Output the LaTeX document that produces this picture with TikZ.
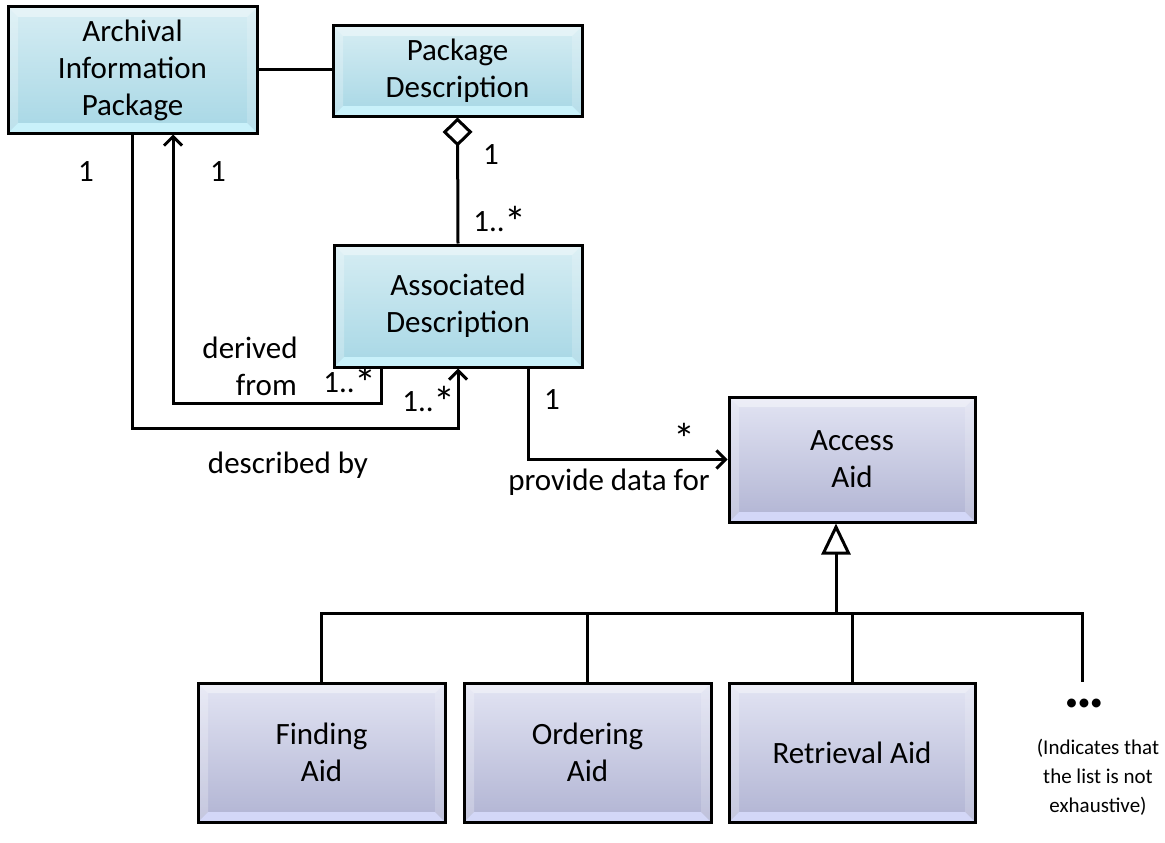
\documentclass[tikz,border=0pt]{standalone}
\usepackage{fontspec}
\setmainfont{Carlito}
\usetikzlibrary{arrows.meta,calc}

\definecolor{cyanTop}{HTML}{D6EDF3}
\definecolor{cyanBot}{HTML}{A7D7E5}
\definecolor{cyanRim}{HTML}{C9F1FA}
\definecolor{lavTop}{HTML}{E2E4F3}
\definecolor{lavBot}{HTML}{B1B4D3}
\definecolor{lavRim}{HTML}{D3D7F7}

% a larger, slightly lowered asterisk for multiplicities
\newcommand\many{\raisebox{-6pt}{\fontsize{44}{44}\selectfont *}}

\tikzset{
  bevel/.style={path picture={
      \coordinate (nw) at (path picture bounding box.north west);
      \coordinate (ne) at (path picture bounding box.north east);
      \coordinate (sw) at (path picture bounding box.south west);
      \coordinate (se) at (path picture bounding box.south east);
      \fill[white,opacity=.40] (nw) -- (ne) -- ([xshift=-10pt,yshift=-10pt]ne)
            -- ([xshift=10pt,yshift=-10pt]nw) -- cycle;
      \fill[white,opacity=.25] (nw) -- ([xshift=10pt,yshift=-10pt]nw)
            -- ([xshift=10pt,yshift=10pt]sw) -- (sw) -- cycle;
      \fill[white,opacity=.18] (ne) -- ([xshift=-10pt,yshift=-10pt]ne)
            -- ([xshift=-10pt,yshift=10pt]se) -- (se) -- cycle;
      \fill[#1] (sw) -- (se) -- ([xshift=-10pt,yshift=10pt]se)
            -- ([xshift=10pt,yshift=10pt]sw) -- cycle;
  }},
  classbox/.style={draw=black, line width=3pt, align=center, inner sep=0pt,
      font=\fontsize{31}{37}\selectfont},
  topclass/.style={classbox, top color=cyanTop, bottom color=cyanBot, bevel=cyanRim},
  aidclass/.style={classbox, top color=lavTop, bottom color=lavBot, bevel=lavRim},
  link/.style={line width=3pt},
  nav/.style={link, -{Straight Barb[length=9pt,width=18pt]}},
  lbl/.style={font=\fontsize{31}{37}\selectfont, inner sep=0pt},
  note/.style={font=\fontsize{21}{29}\selectfont, align=center, inner sep=0pt},
}

\begin{document}
\begin{tikzpicture}[x=1pt,y=-1pt]
\useasboundingbox (0,0) rectangle (1165,843);

% classes
\node[topclass, minimum width=249, minimum height=126] (aip) at (132.5,70)
  {Archival\\Information\\Package};
\node[topclass, minimum width=249, minimum height=90] (pd) at (457.5,71)
  {Package\\Description};
\node[topclass, minimum width=248, minimum height=122] (ad) at (458,306)
  {Associated\\Description};
\node[aidclass, minimum width=246, minimum height=125] (acc) at (852,459.5)
  {Access\\Aid};
\node[aidclass, minimum width=247, minimum height=139] (find) at (321.5,752.5)
  {Finding\\Aid};
\node[aidclass, minimum width=247, minimum height=139] (ord) at (587.5,752.5)
  {Ordering\\Aid};
\node[aidclass, minimum width=246, minimum height=139] (ret) at (852,752.5)
  {Retrieval Aid};

% routing points
\coordinate (descY) at (0,428);
\coordinate (derX) at (381,0);
\coordinate (derY) at (0,403);
\coordinate (aipIn) at (173,0);
\coordinate (adOut) at (528,0);
\coordinate (genX) at (836,0);
\coordinate (barY) at (0,613);
\coordinate (moreEnd) at (1082,682);

% Archival Information Package -- Package Description
\draw[link] (aip.east) -- (aip.east -| pd.west);

% aggregation
\draw[link, {Diamond[open,length=29pt,width=30pt,fill=white]}-] (pd.south) -- (ad.north);

% described by
\draw[nav] (aip.south) |- (descY -| ad.south) -- (ad.south);

% derived from
\draw[nav] (derX |- ad.south) |- (derY -| aipIn) -- (aipIn |- aip.south);

% provide data for
\draw[nav] (adOut |- ad.south) |- (acc.west);

% generalization
\draw[link, -{Triangle[open,length=31pt,width=29pt,fill=white]}]
  (genX |- barY) -- (genX |- acc.south);
\draw[link] (find.north) |- (barY -| moreEnd) -- (moreEnd);
\draw[link] (ord.north) -- (ord.north |- barY);
\draw[link] (ret.north) -- (ret.north |- barY);

% multiplicities and roles
\node[lbl] (m1) at (86,172) {1};
\node[lbl] (m2) at (218,172) {1};
\node[lbl] (m3) at (491,155) {1};
\node[lbl] (m4) at (500,222) {1..\many};
\node[lbl] (r1) at (250,348) {derived};
\node[lbl, anchor=east] (r2) at (297,385) {from};
\node[lbl] (m5) at (350,383) {1..\many};
\node[lbl] (m6) at (429,402) {1..\many};
\node[lbl] (r3) at (288,465) {described by};
\node[lbl] (m7) at (552,400) {1};
\node[lbl] (m8) at (684,439) {\many};
\node[lbl] (r4) at (609,482) {provide data for};

% open-ended list
\node[font=\fontsize{25}{25}\selectfont, inner sep=0pt] (dots) at (1084,705) {•••};
\node[note] (more) at (1098,777) {(Indicates that\\the list is not\\exhaustive)};
\end{tikzpicture}
\end{document}
